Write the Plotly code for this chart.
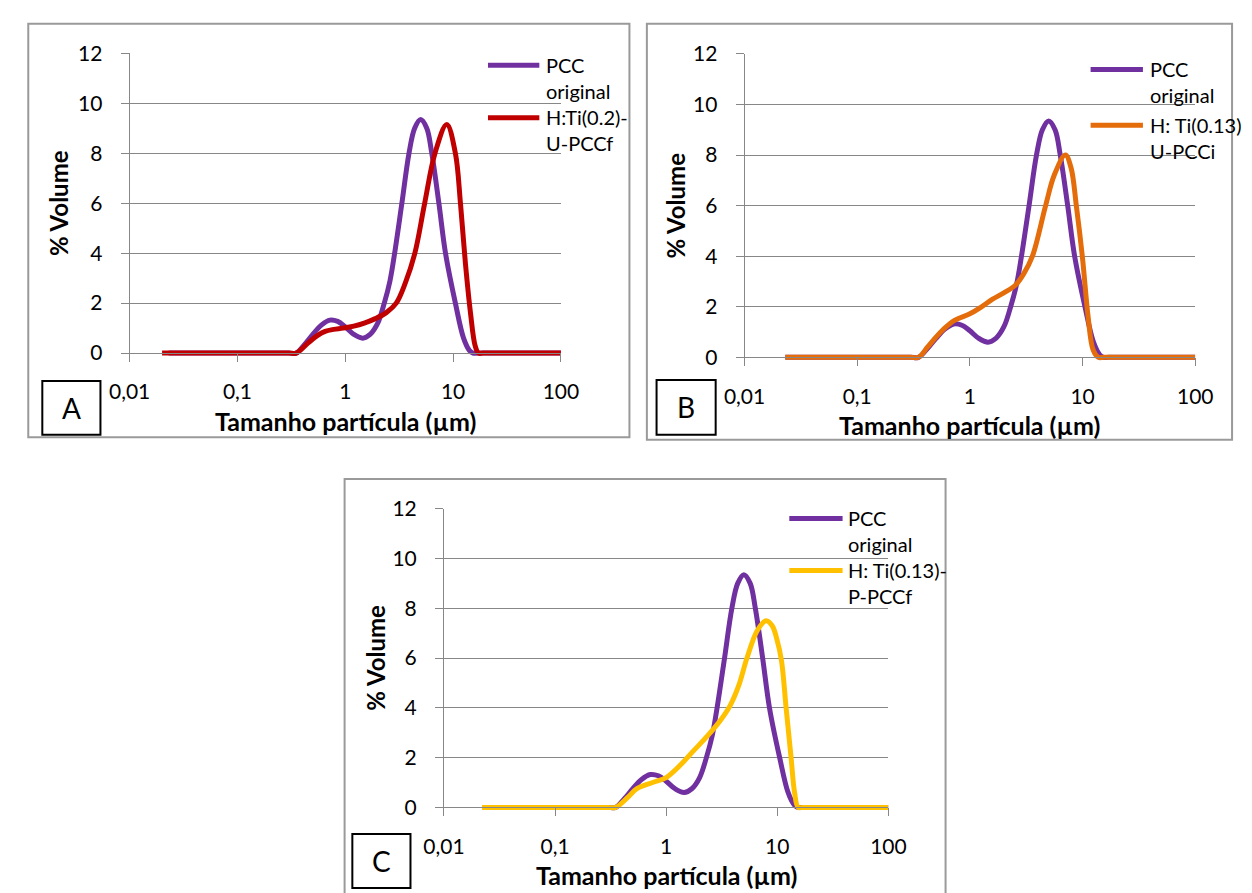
import plotly.graph_objects as go

W, H = 1252, 893

# ---------------- data ----------------
xtick_vals = [0.01, 0.1, 1, 10, 100]
xtick_text = ["0,01", "0,1", "1", "10", "100"]
ytick_vals = [0, 2, 4, 6, 8, 10, 12]

# PCC original (same curve in all three panels)
pcc_size = [0.023, 0.05, 0.1, 0.2, 0.3, 0.35, 0.42, 0.5, 0.6, 0.72, 0.85, 1.0, 1.2, 1.45,
            1.7, 2.0, 2.3, 2.6, 2.87, 3.35, 3.9, 4.4, 5.0, 5.7, 6.34, 7.38, 8.5, 10.5,
            12.5, 14.2, 15.3, 17, 25, 50, 100]
pcc_vol = [0, 0, 0, 0, 0, 0, 0.35, 0.75, 1.12, 1.32, 1.27, 1.05, 0.75, 0.6,
           0.75, 1.2, 2.0, 2.9, 4.0, 6.0, 8.0, 9.0, 9.35, 9.0, 8.0, 6.0, 4.0, 2.0,
           0.6, 0.1, 0, 0, 0, 0, 0]

# A: H:Ti(0.2)-U-PCCf
u_pccf_size = [0.02, 0.05, 0.1, 0.2, 0.3, 0.35, 0.45, 0.55, 0.65, 0.78, 0.95, 1.2, 1.5,
               1.9, 2.4, 2.97, 3.6, 4.42, 5.45, 6.79, 8.73, 10.5, 11.7, 13.0, 14.5,
               16.0, 17.2, 19, 25, 50, 100]
u_pccf_vol = [0, 0, 0, 0, 0, 0, 0.4, 0.7, 0.87, 0.95, 1.0, 1.08, 1.2,
              1.38, 1.62, 2.0, 2.8, 4.0, 6.0, 8.0, 9.15, 8.0, 6.0, 3.6, 1.6,
              0.3, 0, 0, 0, 0, 0]

# B: H: Ti(0.13) U-PCCi
u_pcci_size = [0.023, 0.05, 0.1, 0.2, 0.3, 0.35, 0.42, 0.5, 0.58, 0.73, 1.0, 1.25, 1.59,
               2.0, 2.53, 3.0, 3.59, 4.7, 5.6, 7.03, 7.9, 8.8, 10.0, 11.2, 12.4, 13.8,
               15.5, 25, 50, 100]
u_pcci_vol = [0, 0, 0, 0, 0, 0, 0.4, 0.8, 1.1, 1.46, 1.72, 1.98, 2.3,
              2.55, 2.85, 3.3, 4.0, 6.0, 7.2, 8.0, 7.5, 6.0, 3.9, 1.6, 0.3, 0,
              0, 0, 0, 0]

# C: H: Ti(0.13)-P-PCCf
p_pccf_size = [0.022, 0.05, 0.1, 0.2, 0.3, 0.35, 0.45, 0.545, 0.755, 1.0, 1.32, 1.75,
               2.33, 3.08, 3.77, 4.5, 5.33, 6.59, 7.93, 9.0, 9.85, 10.9, 12.0, 13.3,
               14.3, 15.4, 17, 25, 50, 100]
p_pccf_vol = [0, 0, 0, 0, 0, 0, 0.4, 0.75, 1.0, 1.2, 1.67, 2.26,
              2.85, 3.5, 4.1, 4.9, 6.0, 7.1, 7.5, 7.3, 6.8, 5.9, 4.0, 2.0,
              0.6, 0, 0, 0, 0, 0]

series_names = ["PCC<br>original", "H:Ti(0.2)-<br>U-PCCf",
                "H: Ti(0.13)<br>U-PCCi", "H: Ti(0.13)-<br>P-PCCf"]
panel_letters = ["A", "B", "C"]

# ---------------- styles ----------------
FONT = "Lato"
PURPLE = "#7030A0"
RED = "#C00000"
ORANGE = "#E46C0A"
YELLOW = "#FFC000"
GRID = "#878787"
BORDER = "#9A9A9A"
LW = 5


def px(x):
    return x / W


def py(y):
    return 1 - y / H


# panel geometry in pixels
panels = [
    dict(ax="", x0=112.1, x100=557.3, y0=345.7, y12=40.0,
         box=(7.5, 10, 628, 431.5), lbox=(22, 374, 82, 429),
         leg=(482, 535, 52.3, 105.7, 539.5), ytitle_x=38,
         other=(u_pccf_size, u_pccf_vol, RED, series_names[1])),
    dict(ax="2", x0=746.8, x100=1212.0, y0=350.0, y12=40.7,
         box=(646, 10, 1250, 434), lbox=(656, 373, 717, 429),
         leg=(1104, 1158, 56.7, 113.3, 1163.5), ytitle_x=676,
         other=(u_pcci_size, u_pcci_vol, ORANGE, series_names[2])),
    dict(ax="3", x0=436.6, x100=895.3, y0=808.8, y12=504.3,
         box=(334, 474, 954.3, 905), lbox=(342, 836, 402, 891),
         leg=(793, 848, 514.3, 567.3, 852), ytitle_x=365,
         other=(p_pccf_size, p_pccf_vol, YELLOW, series_names[3])),
]

fig = go.Figure()
shapes = []
annotations = []
layout_axes = {}

for i, p in enumerate(panels):
    xa = "x" + p["ax"]
    ya = "y" + p["ax"]
    osize, ovol, ocolor, oname = p["other"]

    fig.add_trace(go.Scatter(x=pcc_size, y=pcc_vol, mode="lines",
                             line=dict(color=PURPLE, width=LW, shape="spline", smoothing=1),
                             xaxis=xa, yaxis=ya, showlegend=False,
                             name="PCC original"))
    fig.add_trace(go.Scatter(x=osize, y=ovol, mode="lines",
                             line=dict(color=ocolor, width=LW, shape="spline", smoothing=1),
                             xaxis=xa, yaxis=ya, showlegend=False,
                             name=oname.replace("<br>", " ")))

    unit = (p["y0"] - p["y12"]) / 12.0
    ybot = p["y0"] + 8.0
    ymin = -8.0 / unit

    layout_axes["xaxis" + p["ax"]] = dict(
        type="log", range=[-2, 2], domain=[px(p["x0"]), px(p["x100"])],
        anchor="free", position=py(p["y0"]),
        tickmode="array", tickvals=xtick_vals, ticktext=xtick_text,
        ticks="outside", ticklen=8, tickwidth=1, tickcolor=GRID,
        showline=True, linecolor=GRID, linewidth=1,
        showgrid=False, zeroline=False,
        tickfont=dict(family=FONT, size=21, color="black"),
        ticklabelstandoff=12,
    )
    layout_axes["yaxis" + p["ax"]] = dict(
        range=[ymin, 12], domain=[py(ybot), py(p["y12"])],
        anchor=xa,
        tickmode="array", tickvals=ytick_vals,
        ticks="outside", ticklen=8, tickwidth=1, tickcolor=GRID,
        showline=True, linecolor=GRID, linewidth=1,
        showgrid=True, gridcolor=GRID, gridwidth=1, zeroline=False,
        tickfont=dict(family=FONT, size=21, color="black"),
        ticklabelstandoff=14,
    )

    # panel frame
    bx0, by0, bx1, by1 = p["box"]
    shapes.append(dict(type="rect", xref="paper", yref="paper",
                       x0=px(bx0), x1=px(bx1), y0=py(by1), y1=py(by0),
                       line=dict(color=BORDER, width=2), layer="below"))
    # letter box
    lx0, ly0, lx1, ly1 = p["lbox"]
    shapes.append(dict(type="rect", xref="paper", yref="paper",
                       x0=px(lx0), x1=px(lx1), y0=py(ly1), y1=py(ly0),
                       line=dict(color="black", width=2), fillcolor="white"))
    annotations.append(dict(text=panel_letters[i], xref="paper", yref="paper",
                            x=px((lx0 + lx1) / 2), y=py((ly0 + ly1) / 2),
                            xanchor="center", yanchor="middle", showarrow=False,
                            font=dict(family=FONT, size=28, color="black")))

    # axis titles
    annotations.append(dict(text="<b>Tamanho partícula (µm)</b>", xref="paper", yref="paper",
                            x=px((p["x0"] + p["x100"]) / 2), y=py(p["y0"] + 69),
                            xanchor="center", yanchor="middle", showarrow=False,
                            font=dict(family=FONT, size=25, color="black")))
    annotations.append(dict(text="<b>% Volume</b>", xref="paper", yref="paper",
                            x=px(p["ytitle_x"]), y=py((p["y0"] + p["y12"]) / 2),
                            xanchor="center", yanchor="middle", showarrow=False,
                            textangle=-90,
                            font=dict(family=FONT, size=24, color="black")))

    # legend (line sample + label)
    lgx0, lgx1, lgy1, lgy2, ltx = p["leg"]
    for (ly, col, name) in [(lgy1, PURPLE, series_names[0]), (lgy2, ocolor, oname)]:
        shapes.append(dict(type="line", xref="paper", yref="paper",
                           x0=px(lgx0), x1=px(lgx1), y0=py(ly), y1=py(ly),
                           line=dict(color=col, width=LW)))
        annotations.append(dict(text=name, xref="paper", yref="paper",
                                x=px(ltx), y=py(ly + 13), xanchor="left", yanchor="middle",
                                align="left", showarrow=False,
                                font=dict(family=FONT, size=20, color="black")))

fig.update_layout(
    width=W, height=H,
    margin=dict(l=0, r=0, t=0, b=0),
    paper_bgcolor="white", plot_bgcolor="rgba(0,0,0,0)",
    showlegend=False,
    shapes=shapes, annotations=annotations,
    font=dict(family=FONT),
    **layout_axes,
)

fig.write_html("out.html")
